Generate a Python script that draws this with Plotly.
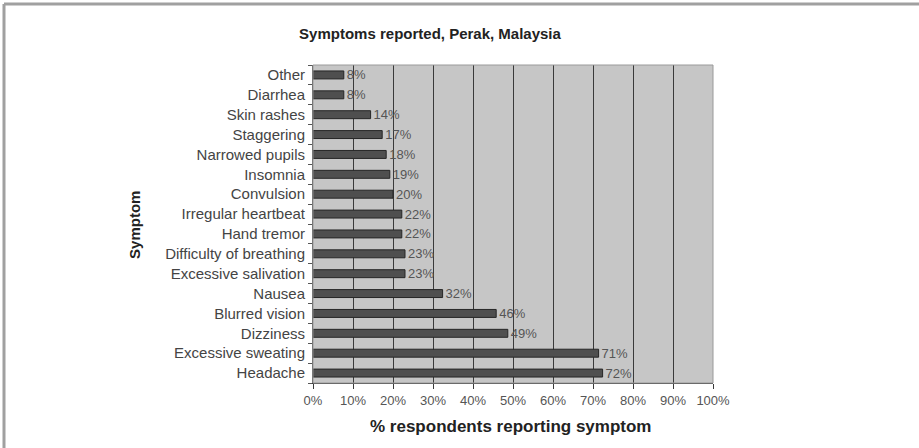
import plotly.graph_objects as go

# symptoms, top to bottom as shown in the chart
symptoms = ['Other', 'Diarrhea', 'Skin rashes', 'Staggering', 'Narrowed pupils',
            'Insomnia', 'Convulsion', 'Irregular heartbeat', 'Hand tremor',
            'Difficulty of breathing', 'Excessive salivation', 'Nausea',
            'Blurred vision', 'Dizziness', 'Excessive sweating', 'Headache']
pct = [7.7, 7.7, 14.4, 17.3, 18.3, 19.2, 20.0, 22.2, 22.2, 23.0, 23.0, 32.4,
       45.8, 48.7, 71.4, 72.4]
x_ticks = list(range(0, 101, 10))
x_labels = [f"{t}%" for t in x_ticks]

FONT = "Liberation Sans, Arial, sans-serif"

fig = go.Figure()
fig.add_trace(go.Bar(
    x=pct,
    y=symptoms,
    orientation='h',
    marker=dict(color='#4f4f4f', line=dict(color='#262626', width=1)),
    texttemplate='%{x:.0f}%',
    textposition='outside',
    constraintext='none',
    textfont=dict(family=FONT, size=13, color='#555555'),
    cliponaxis=False,
    width=0.4,
))

fig.update_layout(
    width=919, height=448,
    margin=dict(l=313, r=206, t=65, b=65),
    paper_bgcolor='white',
    plot_bgcolor='#c6c6c6',
    showlegend=False,
    font=dict(family=FONT, color='#333333'),
    title=dict(text='<b>Symptoms reported, Perak, Malaysia</b>',
               x=430 / 919, xanchor='center', y=1 - 34 / 448, yanchor='middle',
               font=dict(size=15, color='#222222')),
    xaxis=dict(
        range=[0, 100], tickvals=x_ticks, ticktext=x_labels,
        showgrid=True, gridcolor='#3a3a3a', gridwidth=1,
        zeroline=False,
        ticks='outside', ticklen=5, tickcolor='#3a3a3a',
        showline=True, linecolor='#3a3a3a', mirror=False,
        tickfont=dict(size=13, color='#555555'),
    ),
    yaxis=dict(
        categoryorder='array', categoryarray=symptoms[::-1],
        ticks='outside', ticklen=4, tickcolor='#555555', tickson='boundaries',
        showline=True, linecolor='#555555',
        showgrid=False, ticklabelstandoff=4,
        tickfont=dict(size=15, color='#444444'),
    ),
    annotations=[
        dict(text='<b>% respondents reporting symptom</b>', xref='paper', yref='paper',
             x=0.4925, y=-0.138, xanchor='center', yanchor='middle', showarrow=False,
             font=dict(size=17, color='#222222')),
        dict(text='<b>Symptom</b>', xref='paper', yref='paper', textangle=-90,
             x=-0.445, y=0.497, xanchor='center', yanchor='middle', showarrow=False,
             font=dict(size=15, color='#222222')),
    ],
    shapes=[
        # plot area outline
        dict(type='rect', xref='paper', yref='paper', x0=0, x1=1, y0=0, y1=1,
             line=dict(color='#9a9a9a', width=1), layer='above'),
        # outer frame (top and left edges only)
        dict(type='line', xref='paper', yref='paper',
             x0=-0.7725, x1=1.6, y0=1.1918, y1=1.1918,
             line=dict(color='#a0a0a0', width=3)),
        dict(type='line', xref='paper', yref='paper',
             x0=-0.7725, x1=-0.7725, y0=-0.3, y1=1.1918,
             line=dict(color='#a0a0a0', width=3)),
    ],
)

fig.write_html("out.html", config={'displayModeBar': False},
               post_script="document.body.style.margin='0';")
